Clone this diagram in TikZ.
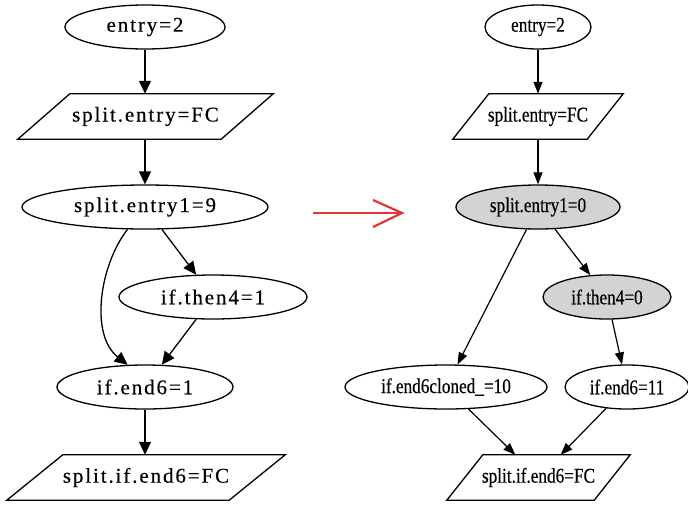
\documentclass[tikz,border=0pt]{standalone}
\usepackage{fontspec}
\setmainfont{Liberation Serif}
\newfontfamily\spacedserif[LetterSpace=9,FakeBold=0.4]{Liberation Serif}
\newfontfamily\narrowserif[FakeStretch=0.82,FakeBold=0.4]{Liberation Serif}
\usetikzlibrary{shapes.geometric,arrows.meta}

\definecolor{nodegray}{HTML}{D3D3D3}
\definecolor{markred}{HTML}{E03535}

% outline of a slanted box drawn around a named rectangle node
\newcommand\slantbox[2]{%
  \draw[line width=1.3pt] ([xshift=#2]#1.north west) -- ([xshift=#2]#1.north east)
    -- ([xshift=-#2]#1.south east) -- ([xshift=-#2]#1.south west) -- cycle;}

\begin{document}
\begin{tikzpicture}[x=1pt,y=-1pt,
  oval/.style={ellipse, draw, line width=1.3pt, inner sep=0pt, minimum height=44pt},
  slant/.style={rectangle, inner sep=0pt, minimum height=45pt},
  lefttext/.style={font=\spacedserif\fontsize{21}{23}\selectfont},
  righttext/.style={font=\narrowserif\fontsize{21}{23}\selectfont},
  grayed/.style={fill=nodegray},
  larrow/.style={-{Triangle[length=13pt,width=12pt]}, line width=1.3pt},
  rarrow/.style={-{Triangle[length=12pt,width=9pt]}, line width=1.2pt}]

\useasboundingbox (0,0) rectangle (688,504);

% ---- before ----
\node[oval, lefttext, minimum width=160pt] (le0) at (145,27) {entry=2};
\node[slant, lefttext, minimum width=203pt] (lsp) at (145.5,116.5) {split.entry=FC};
\slantbox{lsp}{26pt}
\node[oval, lefttext, minimum width=246pt] (le1) at (145,207) {split.entry1=9};
\node[oval, lefttext, minimum width=188pt] (lt4) at (213,297) {if.then4=1};
\node[oval, lefttext, minimum width=176pt] (le6) at (145,387) {if.end6=1};
\node[slant, lefttext, minimum width=222pt] (lse) at (146,477.5) {split.if.end6=FC};
\slantbox{lse}{28pt}

\draw[larrow] (le0) -- (lsp.north -| le0);
\draw[larrow] (lsp.south -| le1) -- (le1);
\draw[larrow] (le1) -- (lt4);
\draw[larrow] (le1.232) .. controls +(-28,36) and +(-38,-30) .. (le6.128);
\draw[larrow] (lt4) -- (le6);
\draw[larrow] (le6) -- (lse.north -| le6);

% ---- transformation marker ----
\coordinate (mstart) at (313,213);
\coordinate (mend) at (402,213);
\draw[markred, line width=2.2pt] (mstart) -- (mend);
\draw[markred, line width=2.2pt, line join=miter] ([shift={(-29,-13)}]mend) -- (mend) -- ([shift={(-29,14)}]mend);

% ---- after ----
\node[oval, righttext, minimum width=106pt] (re0) at (538,27) {entry=2};
\node[slant, righttext, minimum width=134pt] (rsp) at (538,116.5) {split.entry=FC};
\slantbox{rsp}{18pt}
\node[oval, grayed, righttext, minimum width=164pt] (re1) at (538,207) {split.entry1=0};
\node[oval, grayed, righttext, minimum width=128pt] (rt4) at (607,297) {if.then4=0};
\node[oval, righttext, minimum width=202pt] (rec) at (446,387) {if.end6cloned\_=10};
\node[oval, righttext, minimum width=124pt] (re6) at (627,387) {if.end6=11};
\node[slant, righttext, minimum width=147pt] (rse) at (538.5,477.5) {split.if.end6=FC};
\slantbox{rse}{18pt}

\draw[rarrow] (re0) -- (rsp.north -| re0);
\draw[rarrow] (rsp.south -| re1) -- (re1);
\draw[rarrow] (re1) -- (rec);
\draw[rarrow] (re1) -- (rt4);
\draw[rarrow] (rt4) -- (re6);
\draw[rarrow] (rec) -- (rse);
\draw[rarrow] (re6) -- (rse);
\end{tikzpicture}
\end{document}
